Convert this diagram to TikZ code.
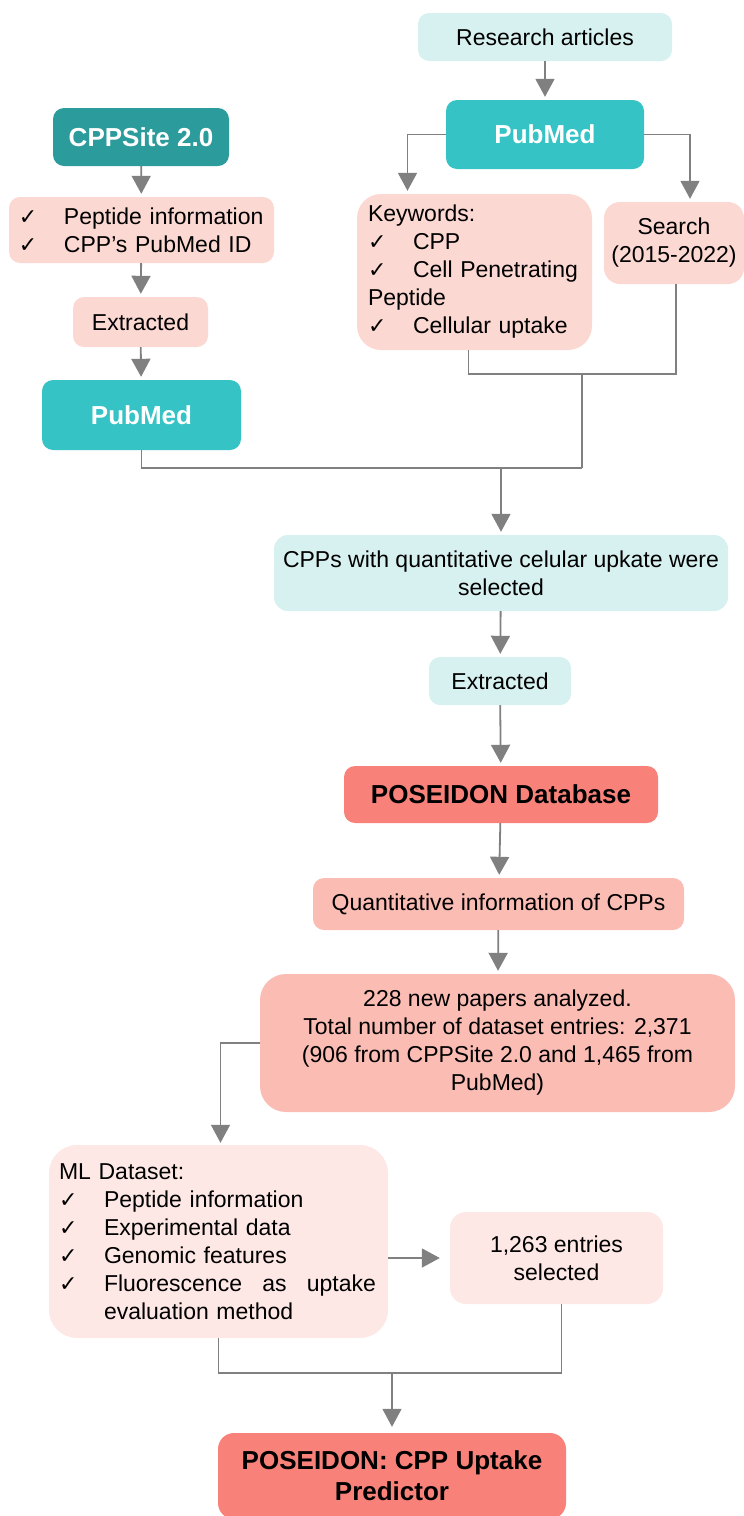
\documentclass[tikz,border=0pt]{standalone}
\usepackage{fontspec}
\setmainfont{Liberation Sans}
\newfontfamily\symfont{DejaVu Sans}
\usepackage{tikz}
\usetikzlibrary{arrows.meta, positioning, calc}

\definecolor{tealdark}{RGB}{44, 155, 155}
\definecolor{tealmid}{RGB}{54, 195, 197}
\definecolor{cyanlight}{RGB}{215, 240, 240}
\definecolor{pinklight}{RGB}{252, 216, 210}
\definecolor{pinkmid}{RGB}{251, 188, 180}
\definecolor{pinkpale}{RGB}{253, 232, 229}
\definecolor{salmon}{RGB}{248, 130, 122}
\definecolor{linegray}{RGB}{128, 128, 128}

\newcommand{\chk}{\makebox[45pt][l]{\symfont\fontsize{22}{22}\selectfont ✓}}

\tikzset{
  box/.style={rounded corners=11pt, inner sep=0pt, align=center,
    font=\fontsize{23}{28}\selectfont},
  listbox/.style={box, align=left, inner xsep=12pt},
  headbox/.style={box, text=white, font=\fontsize{26}{31}\selectfont\bfseries},
  keybox/.style={box, font=\fontsize{26}{31}\selectfont\bfseries},
  arr/.style={draw=linegray, line width=1.8pt,
    -{Triangle[length=18pt, width=19pt]}, shorten >=3pt},
  link/.style={draw=linegray, line width=1.5pt}
}

\begin{document}
\begin{tikzpicture}[x=1pt, y=-1pt]
  \useasboundingbox (0,0) rectangle (744,1516);

  % sources
  \node[box, fill=cyanlight, minimum width=254pt, minimum height=48pt] (research) at (545,37) {Research articles};
  \node[headbox, fill=tealdark, minimum width=176pt, minimum height=58pt] (cppsite) at (141,137) {CPPSite 2.0};
  \node[headbox, fill=tealmid, minimum width=198pt, minimum height=69pt] (pubmedR) at (545,134.5) {PubMed};

  % left branch
  \node[listbox, fill=pinklight, inner xsep=10pt, text width=245pt, minimum width=265pt, minimum height=66pt] (pepinfo) at (141.5,230)
    {\chk Peptide information\\ \chk CPP’s PubMed ID};
  \node[box, fill=pinklight, minimum width=135pt, minimum height=50pt] (extractL) at (140.5,322) {Extracted};
  \node[headbox, fill=tealmid, minimum width=199pt, minimum height=70pt] (pubmedL) at (141.5,415) {PubMed};

  % right branch
  \node[listbox, fill=pinklight, rounded corners=24pt, inner xsep=11pt, text width=213pt, minimum width=235pt, minimum height=156pt] (keywords) at (474.5,272)
    {Keywords:\\ \chk CPP\\ \chk Cell Penetrating\\ Peptide\\ \chk Cellular uptake};
  \node[box, fill=pinklight, rounded corners=16pt, minimum width=140pt, minimum height=82pt] (search) at (674,243) {Search\\(2015-2022)};

  % database
  \node[box, fill=cyanlight, rounded corners=14pt, minimum width=454pt, minimum height=76pt] (cpps) at (501,573)
    {CPPs with quantitative celular upkate were\\selected};
  \node[box, fill=cyanlight, minimum width=142pt, minimum height=48pt] (extractC) at (500,681) {Extracted};
  \node[keybox, fill=salmon, minimum width=314pt, minimum height=57pt] (posdb) at (501,794.5) {POSEIDON Database};
  \node[box, fill=pinkmid, minimum width=371pt, minimum height=52pt] (quant) at (498.5,904) {Quantitative information of CPPs};
  \node[box, fill=pinkmid, rounded corners=26pt, minimum width=475pt, minimum height=138pt] (papers) at (497.5,1043)
    {228 new papers analyzed.\\ Total number of dataset entries: 2,371\\ (906 from CPPSite 2.0 and 1,465 from\\ PubMed)};

  % model
  \node[listbox, fill=pinkpale, rounded corners=28pt, inner xsep=10pt, text width=319pt, minimum width=339pt, minimum height=193pt] (mlset) at (218.5,1241.5)
    {ML Dataset:\\ \chk Peptide information\\ \chk Experimental data\\ \chk Genomic features\\
     \chk\makebox[272pt][l]{Fluorescence\hfill as\hfill uptake}\\ \hspace*{45pt}evaluation method};
  \node[box, fill=pinkpale, rounded corners=16pt, minimum width=213pt, minimum height=92pt] (entries) at (556.5,1258) {1,263 entries\\selected};
  \node[keybox, fill=salmon, rounded corners=16pt, minimum width=348pt, minimum height=86pt] (predictor) at (392,1476)
    {POSEIDON: CPP Uptake\\Predictor};

  % connectors
  \coordinate (rjoin) at (582,374);
  \coordinate (ljoin) at (582,468);
  \coordinate (mjoin) at (393,1373);

  \draw[arr] (research) -- (pubmedR);
  \draw[arr] (cppsite) -- (pepinfo);
  \draw[arr] (pepinfo) -- (extractL);
  \draw[arr] (extractL) -- (pubmedL);
  \draw[arr] (pubmedR.west) -| ([xshift=-67pt]keywords.north);
  \draw[arr] (pubmedR.east) -| ([xshift=16pt]search.north);
  \draw[link] ([xshift=-6pt]keywords.south) |- (rjoin) -| ([xshift=2pt]search.south);
  \draw[link] (rjoin) -- (ljoin);
  \draw[link] (pubmedL.south) |- (ljoin);
  \draw[arr] (cpps.north |- ljoin) -- (cpps.north);
  \draw[arr] (cpps) -- (extractC);
  \draw[arr] (extractC) -- (posdb);
  \draw[arr] (posdb) -- (quant);
  \draw[arr] (quant) -- (papers);
  \draw[link, -{Triangle[length=18pt, width=19pt]}, shorten >=2pt] (papers.west) -| ([xshift=2pt]mlset.north);
  \draw[arr, shorten >=10pt] (mlset.east |- entries.west) -- (entries.west);
  \draw[link] (mlset.south) |- (mjoin) -| ([xshift=5pt]entries.south);
  \draw[link, -{Triangle[length=18pt, width=19pt]}, shorten >=6pt] (predictor.north |- mjoin) -- (predictor.north);
\end{tikzpicture}
\end{document}
